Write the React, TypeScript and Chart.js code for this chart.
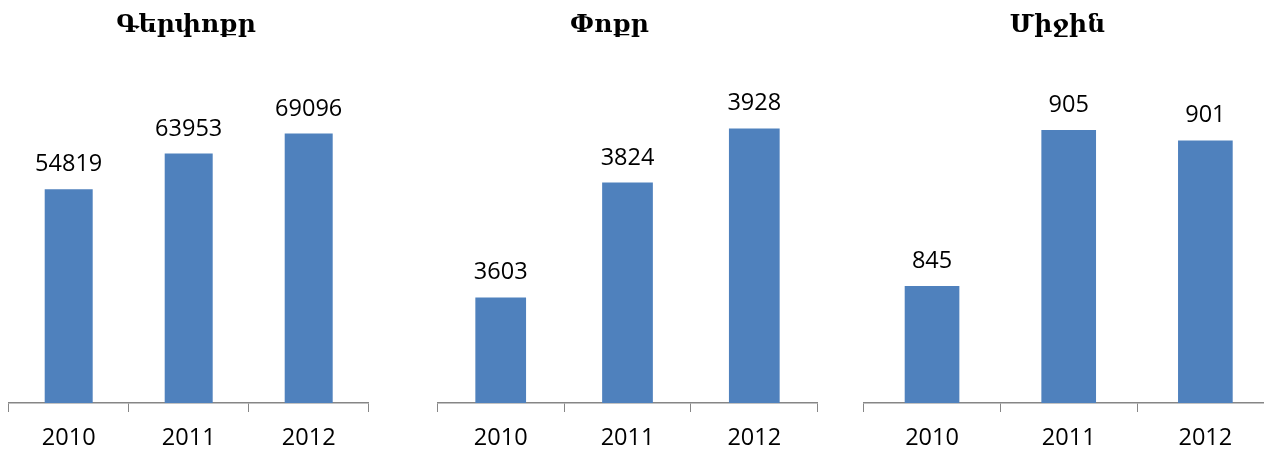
import React, { useEffect, useRef } from "react";
import { Chart, registerables } from "chart.js";

Chart.register(...registerables);

const categories = ["2010", "2011", "2012"];
const titles = ["Գերփոքր", "Փոքր", "Միջին"];
const valuesMicro = [54819, 63953, 69096];
const valuesSmall = [3603, 3824, 3928];
const valuesMedium = [845, 905, 901];
const yMins = [0, 3400, 800];
const yMaxs = [80000, 4000, 920];

const BAR_COLOR = "#4F81BD";
const AXIS_COLOR = "#868686";
const LABEL_FONT = "'Open Sans', 'Liberation Sans', sans-serif";
const TITLE_FONT = "'DejaVu Serif', serif";

type PanelLayout = { left: number; width: number; leftAxis: number; rightAxis: number };

const layouts: PanelLayout[] = [
  { left: 0, width: 372, leftAxis: 8.7, rightAxis: 3.3 },
  { left: 400, width: 419, leftAxis: 37.3, rightAxis: 1.3 },
  { left: 840, width: 435, leftAxis: 23.7, rightAxis: 1.3 },
];

const valueLabelPlugin = {
  id: "valueLabels",
  afterDatasetsDraw(chart: any) {
    const ctx = chart.ctx;
    ctx.save();
    ctx.font = `23.5px ${LABEL_FONT}`;
    ctx.fillStyle = "#000";
    ctx.textAlign = "center";
    ctx.textBaseline = "alphabetic";
    chart.data.datasets.forEach((ds: any, di: number) => {
      const meta = chart.getDatasetMeta(di);
      meta.data.forEach((bar: any, i: number) => {
        ctx.fillText(String(ds.data[i]), bar.x, bar.y - 18);
      });
    });
    ctx.restore();
  },
};

function Panel({ index, values }: { index: number; values: number[] }) {
  const ref = useRef<HTMLCanvasElement | null>(null);
  const lay = layouts[index];
  useEffect(() => {
    if (!ref.current) return;
    const chart = new Chart(ref.current, {
      type: "bar",
      data: {
        labels: categories,
        datasets: [
          {
            data: values,
            backgroundColor: BAR_COLOR,
            borderWidth: 0,
            categoryPercentage: 1,
            barPercentage: 0.4,
          },
        ],
      },
      options: {
        animation: false,
        responsive: false,
        maintainAspectRatio: false,
        layout: { padding: 0 },
        plugins: {
          legend: { display: false },
          tooltip: { enabled: false },
          title: {
            display: true,
            text: titles[index],
            color: "#000",
            font: { family: TITLE_FONT, size: 25, weight: "bold", lineHeight: 1.2 },
            padding: { top: 10, bottom: 51 },
          },
        },
        scales: {
          x: {
            grid: {
              display: true,
              offset: true,
              drawOnChartArea: false,
              drawTicks: true,
              tickLength: 9,
              color: AXIS_COLOR,
              lineWidth: 1,
            },
            border: { display: true, color: AXIS_COLOR, width: 1.5 },
            ticks: {
              color: "#000",
              font: { family: LABEL_FONT, size: 23.5 },
              padding: 12,
            },
            afterFit: (s: any) => {
              s.height = 47;
            },
          },
          y: {
            min: yMins[index],
            max: yMaxs[index],
            display: true,
            position: "left",
            grid: { display: false },
            border: { display: false },
            ticks: { display: false },
            afterFit: (s: any) => {
              s.width = lay.leftAxis;
            },
          },
          yR: {
            type: "linear",
            display: true,
            position: "right",
            grid: { display: false },
            border: { display: false },
            ticks: { display: false },
            afterFit: (s: any) => {
              s.width = lay.rightAxis;
            },
          },
        },
      } as any,
      plugins: [valueLabelPlugin],
    });
    return () => chart.destroy();
  }, []);
  return (
    <canvas
      ref={ref}
      width={lay.width}
      height={450}
      style={{ position: "absolute", left: lay.left, top: 0, width: lay.width, height: 450 }}
    />
  );
}

export default function App() {
  return (
    <div
      style={{
        position: "absolute",
        left: 0,
        top: 0,
        width: 1264,
        height: 450,
        overflow: "hidden",
        background: "#fff",
      }}
    >
      <Panel index={0} values={valuesMicro} />
      <Panel index={1} values={valuesSmall} />
      <Panel index={2} values={valuesMedium} />
    </div>
  );
}
